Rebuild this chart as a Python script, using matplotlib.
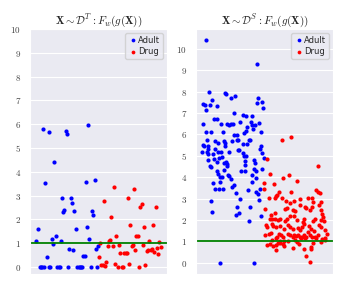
import numpy as np
import matplotlib
matplotlib.use("Agg")
import matplotlib.pyplot as plt
import seaborn as sns

sns.set_style("darkgrid")
plt.rcParams['mathtext.fontset'] = 'cm'

# left panel: X ~ D^T  (sample index, score)
left_adult_idx = [108, 113, 118, 122, 126, 131, 135, 139, 145, 150, 154, 158, 162, 166, 170,
                  175, 178, 181, 185, 188, 192, 204, 207, 211, 215, 219, 222, 227, 231, 235,
                  238, 242, 246, 249, 253, 257, 261, 267, 272, 275, 279, 283, 287, 291, 294,
                  128, 147, 196, 200, 264]
left_adult_val = [1.11, 1.60, 0, 0, 0, 0, 3.54, 0.40, 0, 0, 1.19, 0.97, 4.40, 1.31, 0,
                  0, 0, 1.11, 2.89, 2.32, 2.39, 0, 0.76, 2.89, 2.68, 0.71, 2.36, 1.61, 0, 0,
                  0, 0, 0, 0.44, 0.44, 3.56, 1.67, 1.18, 0, 2.33, 2.19, 3.65, 0.75, 0, 0.90,
                  5.79, 5.69, 5.71, 5.59, 5.95]

left_drug_idx = [298, 295, 302, 306, 310, 314, 317, 322, 325, 329, 332, 336, 340, 343, 347,
                 351, 355, 358, 363, 366, 371, 375, 378, 381, 385, 389, 393, 397, 400, 404,
                 407, 411, 415, 419, 423, 427, 430, 434, 438, 442, 446, 450, 454, 457, 461,
                 465, 469, 472, 476, 480]
left_drug_val = [0.99, 0.42, 0.07, 0.07, 2.76, 0.03, 0.22, 0.90, 1.07, 1.14, 2.10, 0.90, 3.35, 0.14, 1.29,
                 0, 0.94, 0.58, 0, 0, 0.58, 0.58, 0.58, 2.88, 0.13, 1.78, 0.88, 0.93, 3.28, 0.72,
                 1.32, 1.28, 0, 2.53, 2.64, 0.92, 1.68, 0.07, 0.69, 0.71, 1.11, 0.72, 0.76, 1.78, 0.63,
                 2.53, 0.81, 0.54, 1.03, 0.82]

# right panel: X ~ D^S
right_adult_idx = [92, 247, 101, 150, 154, 181, 168, 112, 85, 89, 104, 127, 93, 251, 248,
                   262, 266, 178, 118, 126, 204, 214, 231, 84, 138, 157, 162, 168, 175, 196,
                   228, 232, 253, 218, 215, 209, 92, 108, 146, 234, 242, 260, 178, 186, 95,
                   119, 129, 148, 151, 172, 186, 190, 205, 218, 222, 225, 84,
                   88, 99, 150, 258, 98, 120, 193, 256,
                   82, 96, 100, 113, 129, 140, 163, 191, 204, 209, 263,
                   98, 118, 127, 132, 143, 149, 153, 156, 158, 213, 212, 238, 241, 268, 105, 107,
                   125, 130, 141, 135, 149, 159, 162, 169, 200, 212, 210, 239, 243, 232, 261, 233, 243,
                   115, 137, 121, 133, 146, 173, 178, 183, 221, 244, 249, 255,
                   109, 196, 253, 188, 194, 226, 258, 111, 184, 223,
                   135, 237]
right_adult_val = [10.40, 9.30, 7.99, 7.94, 7.88, 7.77, 7.68, 7.62, 7.43, 7.35, 7.37, 7.31, 7.15, 7.68, 7.48,
                   7.51, 7.23, 6.98, 6.74, 6.73, 6.90, 6.87, 6.85, 6.48, 6.48, 6.50, 6.43, 6.48, 6.48, 6.59,
                   6.60, 6.45, 6.54, 6.36, 6.17, 6.06, 6.09, 6.11, 6.12, 6.23, 6.45, 6.09, 5.95, 5.98, 5.72,
                   5.67, 5.59, 5.70, 5.62, 5.69, 5.73, 5.73, 5.55, 5.56, 5.75, 5.73, 5.51,
                   5.47, 5.45, 5.48, 5.45, 5.31, 5.31, 5.28, 5.32,
                   5.16, 5.16, 5.06, 5.09, 5.16, 5.19, 5.16, 5.25, 5.12, 5.00, 5.12,
                   4.78, 4.84, 4.69, 4.88, 4.94, 4.66, 4.69, 4.53, 4.61, 5.00, 4.75, 4.78, 4.66, 4.88, 4.53, 4.47,
                   4.31, 4.16, 3.99, 3.99, 4.35, 4.11, 4.05, 3.91, 4.31, 4.31, 4.55, 4.38, 4.31, 4.08, 4.38, 3.77, 3.94,
                   3.75, 3.77, 3.44, 3.47, 3.46, 3.54, 3.64, 3.27, 3.38, 3.29, 3.22, 3.44,
                   2.87, 2.99, 2.93, 2.60, 2.32, 2.59, 2.18, 2.37, 2.23, 1.96,
                   0, 0]

right_drug_idx = [321, 349, 277, 431, 285, 343, 325, 268, 297, 367,
                  269, 425, 431, 437, 349, 282, 303, 300, 307, 313, 323, 335, 347, 359, 375, 399, 413, 415, 441,
                  270, 330, 337, 355, 361, 375, 390, 395, 408, 413, 433, 440, 443, 290, 302,
                  285, 293, 300, 310, 317, 331, 337, 347, 359, 367, 385, 389, 415, 421, 439, 447, 449,
                  275, 277, 291, 295, 305, 317, 327, 340, 347, 355, 369, 375, 381, 389, 403, 409, 419, 433, 439, 451,
                  283, 289, 307, 313, 319, 325, 341, 347, 355, 359, 365, 371, 375, 383, 389, 395, 401, 407, 413,
                  421, 425, 431, 443, 451, 457,
                  291, 305, 311, 315, 327, 339, 361, 367, 373, 379, 391, 415, 441, 451,
                  277, 287, 295, 303, 317, 325, 329, 305, 355, 389, 411, 409, 395, 407, 271]
right_drug_val = [5.72, 5.90, 4.84, 4.52, 4.16, 4.11, 3.94, 3.72, 3.68, 3.82,
                  3.47, 3.41, 3.32, 3.26, 3.33, 3.01, 3.13, 3.04, 3.19, 3.29, 3.02, 2.87, 2.79, 2.87, 2.98, 3.04, 3.02, 2.85, 2.82,
                  2.51, 2.51, 2.57, 2.48, 2.41, 2.69, 2.63, 2.55, 2.45, 2.63, 2.69, 2.45, 2.29, 2.23, 2.31,
                  2.04, 2.04, 2.07, 1.98, 2.04, 1.95, 2.04, 2.17, 2.17, 2.01, 1.92, 2.04, 1.95, 2.07, 2.01, 2.14, 1.95,
                  1.76, 1.67, 1.82, 1.73, 1.67, 1.73, 1.57, 1.76, 1.67, 1.57, 1.64, 1.54, 1.67, 1.82, 1.70, 1.57, 1.51, 1.76, 1.67, 1.54,
                  1.36, 1.39, 1.23, 1.36, 1.32, 1.23, 1.36, 1.29, 1.23, 1.32, 1.26, 1.32, 1.20, 1.23, 1.32, 1.23, 1.42, 1.29, 1.20,
                  1.23, 1.14, 1.29, 1.11, 1.14, 1.36,
                  1.07, 1.14, 0.95, 1.04, 1.00, 1.01, 1.07, 0.98, 0.89, 1.14, 1.14, 0.95, 0.98, 1.07,
                  0.83, 0.89, 0.79, 0.83, 0.92, 0.86, 0.79, 0.61, 0.70, 0.64, 0.67, 0.76, 0.30, 0.02, 1.31]

threshold = 1.0
titles = [r'$\mathbf{X} \sim \mathcal{D}^T : F_w(g(\mathbf{X}))$',
          r'$\mathbf{X} \sim \mathcal{D}^S : F_w(g(\mathbf{X}))$']

fig = plt.figure(figsize=(3.49, 2.91), dpi=100)
ax1 = fig.add_axes([30 / 349, 17 / 291, 137 / 349, 245 / 291])
ax2 = fig.add_axes([196 / 349, 17 / 291, 137 / 349, 245 / 291])

panels = [(ax1, left_adult_idx, left_adult_val, left_drug_idx, left_drug_val),
          (ax2, right_adult_idx, right_adult_val, right_drug_idx, right_drug_val)]

for k, (ax, ax_i, ax_v, dr_i, dr_v) in enumerate(panels):
    ax.scatter(ax_i, ax_v, s=9, color='blue', linewidths=0, label='Adult')
    ax.scatter(dr_i, dr_v, s=9, color='red', linewidths=0, label='Drug')
    ax.axhline(threshold, color='green', lw=1.3)
    ax.set_xticks([])
    ax.set_title(titles[k], fontsize=8, pad=4)
    ax.legend(loc='upper right', fontsize=6, markerscale=0.9, handletextpad=0.1,
              borderpad=0.3, labelspacing=0.3, handlelength=1.2, frameon=True)

ax1.set_ylim(top=10)
ticks = list(range(0, 11))
for ax in (ax1, ax2):
    ax.set_yticks(ticks, labels=[f'${t}$' for t in ticks])
    ax.tick_params(axis='y', labelsize=6.5, pad=3, labelcolor='#444444')

fig.savefig('out.png', dpi=100)
